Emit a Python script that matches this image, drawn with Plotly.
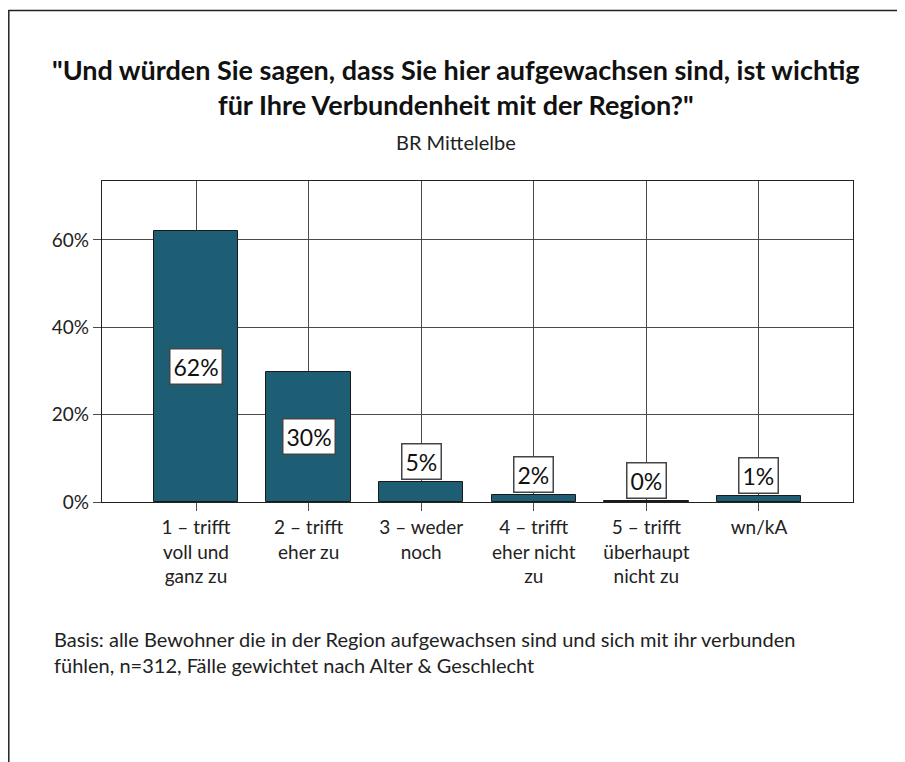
import plotly.graph_objects as go

categories = ["1 – trifft<br>voll und<br>ganz zu", "2 – trifft<br>eher zu", "3 – weder<br>noch",
              "4 – trifft<br>eher nicht<br>zu", "5 – trifft<br>überhaupt<br>nicht zu", "wn/kA"]
values = [62.1, 29.8, 4.6, 1.7, 0.3, 1.3]
y_ticks = [0, 20, 40, 60]
y_ticktext = ["0%", "20%", "40%", "60%"]
title_lines = ["\"Und würden Sie sagen, dass Sie hier aufgewachsen sind, ist wichtig",
               "für Ihre Verbundenheit mit der Region?\""]
subtitle = "BR Mittelelbe"
footnote = ["Basis: alle Bewohner die in der Region aufgewachsen sind und sich mit ihr verbunden",
            "fühlen, n=312, Fälle gewichtet nach Alter &amp; Geschlecht"]

W, H = 905, 762
OFF = 8  # page body margin
FONT = "Lato, 'DejaVu Sans', sans-serif"
BAR = "#1d5e74"
GRID = "#4a4a4a"

def px(x):
    return (x - OFF) / W

def py(y):
    return 1 - (y - OFF) / H

xs = list(range(len(categories)))

fig = go.Figure()
fig.add_trace(go.Bar(
    x=xs, y=values, width=0.75,
    marker=dict(color=BAR, line=dict(color="#1a1a1a", width=1)),
    hoverinfo="skip",
))

annotations = []
for i, v in enumerate(values):
    label = f"{round(v):d}%"
    common = dict(x=i, xref="x", yref="y", text=label, showarrow=False, xanchor="center",
                  font=dict(family=FONT, size=23, color="#111"),
                  bgcolor="white", bordercolor="#444", borderwidth=1.5, borderpad=3)
    if v > 10:
        annotations.append(dict(y=v / 2, yanchor="middle", **common))
    else:
        annotations.append(dict(y=v, yanchor="bottom", yshift=2, **common))

annotations.append(dict(x=px(456), y=py(87), xref="paper", yref="paper",
                        text="<b>" + "<br>".join(title_lines) + "</b>",
                        showarrow=False, xanchor="center", yanchor="middle", align="center",
                        font=dict(family=FONT, size=27, color="#111")))
annotations.append(dict(x=px(456), y=py(142), xref="paper", yref="paper", text=subtitle,
                        showarrow=False, xanchor="center", yanchor="middle",
                        font=dict(family=FONT, size=20, color="#222")))
annotations.append(dict(x=px(52), y=py(652), xref="paper", yref="paper", text="<br>".join(footnote),
                        showarrow=False, xanchor="left", yanchor="middle", align="left",
                        font=dict(family=FONT, size=20, color="#222")))

shapes = [
    dict(type="line", xref="paper", yref="paper", x0=px(8.5), x1=1, y0=py(10.5), y1=py(10.5),
         line=dict(color="#222", width=1.5)),
    dict(type="line", xref="paper", yref="paper", x0=px(8.8), x1=px(8.8), y0=py(10), y1=0,
         line=dict(color="#222", width=1.5)),
]

fig.update_layout(
    width=W, height=H,
    margin=dict(l=0, r=0, t=0, b=0),
    paper_bgcolor="white", plot_bgcolor="white",
    showlegend=False,
    bargap=0,
    annotations=annotations,
    shapes=shapes,
    font=dict(family=FONT, size=19, color="#222"),
    xaxis=dict(domain=[px(102), px(853)], range=[-0.835, 5.835],
               tickvals=xs, ticktext=categories, tickfont=dict(family=FONT, size=19, color="#222"),
               ticks="outside", ticklen=8, tickcolor=GRID, tickwidth=1.2,
               showgrid=True, gridcolor=GRID, gridwidth=1.2,
               showline=True, linecolor="#222", linewidth=1.2, mirror=True,
               zeroline=False, automargin=False, fixedrange=True),
    yaxis=dict(domain=[py(502), py(181)], range=[0, 73.5],
               tickvals=y_ticks, ticktext=y_ticktext, tickfont=dict(family=FONT, size=19, color="#222"),
               ticks="outside", ticklen=8, tickcolor=GRID, tickwidth=1.2,
               showgrid=True, gridcolor=GRID, gridwidth=1.2,
               showline=True, linecolor="#222", linewidth=1.2, mirror=True,
               zeroline=False, automargin=False, fixedrange=True),
)

fig.write_html("out.html")
